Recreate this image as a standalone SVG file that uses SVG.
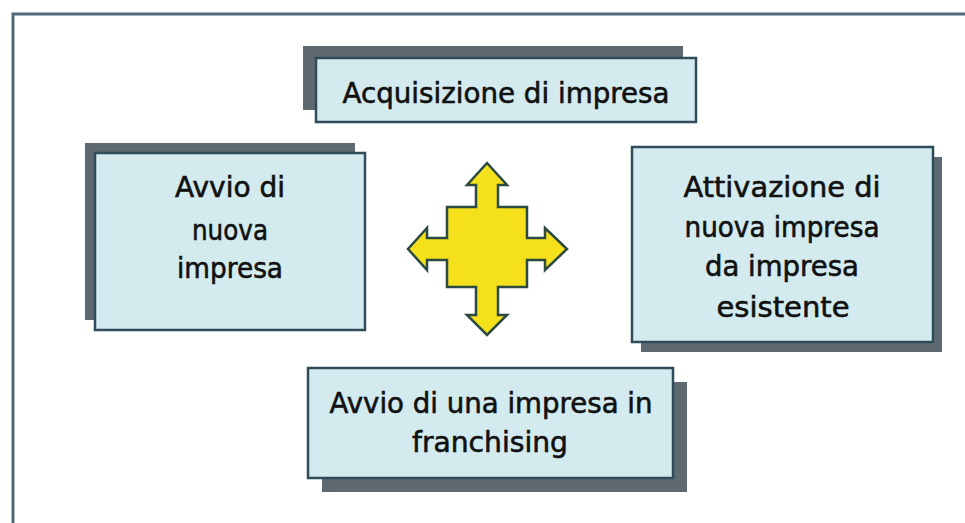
<svg xmlns="http://www.w3.org/2000/svg" width="965" height="523" viewBox="0 0 965 523">
<style>
.shadow{fill:#5e6a70}
.box{fill:#d3eaef;stroke:#2e4d58;stroke-width:2.5}
.lbl{font-family:"DejaVu Sans","Liberation Sans",sans-serif;font-size:28px;fill:#111;stroke:#111;stroke-width:0.6;text-anchor:middle}
.frame{stroke:#4e6a76;stroke-width:3;fill:none}
</style>
<rect width="965" height="523" fill="#ffffff"/>
<polyline class="frame" points="13,523 13,14 965,14"/>

<g id="acquisizione">
<rect class="shadow" x="303" y="46" width="380" height="64"/>
<rect class="box" x="316" y="58" width="380" height="64"/>
<text class="lbl" x="506" y="103" textLength="327" lengthAdjust="spacingAndGlyphs">Acquisizione di impresa</text>
</g>

<g id="avvio-nuova">
<rect class="shadow" x="85" y="143" width="270" height="177"/>
<rect class="box" x="95" y="153" width="270" height="177"/>
<text class="lbl" x="230" y="197" textLength="110" lengthAdjust="spacingAndGlyphs">Avvio di</text>
<text class="lbl" x="230" y="240" textLength="76" lengthAdjust="spacingAndGlyphs">nuova</text>
<text class="lbl" x="230" y="278" textLength="106" lengthAdjust="spacingAndGlyphs">impresa</text>
</g>

<g id="attivazione">
<rect class="shadow" x="641" y="157" width="301" height="195"/>
<rect class="box" x="632" y="147" width="301" height="195"/>
<text class="lbl" x="782" y="197" textLength="197" lengthAdjust="spacingAndGlyphs">Attivazione di</text>
<text class="lbl" x="782" y="237" textLength="195" lengthAdjust="spacingAndGlyphs">nuova impresa</text>
<text class="lbl" x="782" y="276" textLength="154" lengthAdjust="spacingAndGlyphs">da impresa</text>
<text class="lbl" x="783" y="317" textLength="133" lengthAdjust="spacingAndGlyphs">esistente</text>
</g>

<g id="franchising">
<rect class="shadow" x="322" y="382" width="365" height="110"/>
<rect class="box" x="308" y="368" width="365" height="110"/>
<text class="lbl" x="491" y="413" textLength="323" lengthAdjust="spacingAndGlyphs">Avvio di una impresa in</text>
<text class="lbl" x="490" y="452" textLength="156" lengthAdjust="spacingAndGlyphs">franchising</text>
</g>

<g id="arrow">
<polygon fill="#f4e11c" stroke="#2b4a42" stroke-width="2.5" stroke-linejoin="miter" points="487,163 507,185 498,185 498,207 527,207 527,238 545,238 545,228 567,249 545,270 545,260 527,260 527,287 498,287 498,315 507,315 487,335 467,315 476,315 476,287 447,287 447,260 427,260 427,270 408,249 427,228 427,238 447,238 447,207 476,207 476,185 467,185"/>
</g>
<g id="connectors"></g>
</svg>
